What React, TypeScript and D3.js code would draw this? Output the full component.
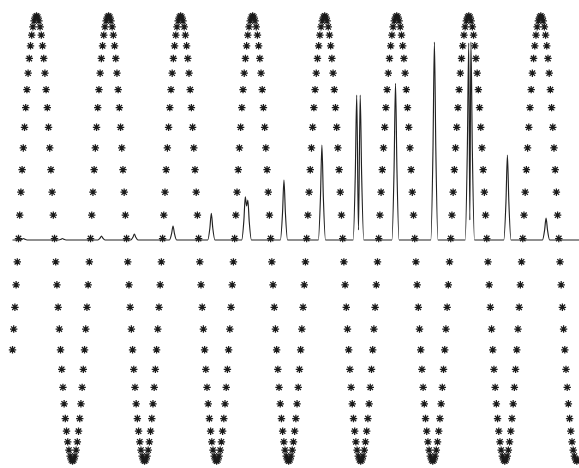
import React from "react";
import * as d3 from "d3";

// Sampled wave (asterisk markers), one value per sample, sample step 0.01
const waveStep = 0.01;
const waveValues: number[] = [
  -.5,-.407,-.309,-.208,-.105,0,.105,.208,.309,.407,.5,.588,.669,.743,.809,.866,.914,.951,.978,.995,1,.995,.978,.951,.914,.866,.809,.743,.669,.588,.5,.407,.309,.208,.105,0,-.105,-.208,-.309,-.407,-.5,-.588,-.669,-.743,-.809,-.866,-.914,-.951,-.978,-.995,-1,-.995,-.978,-.951,-.914,-.866,-.809,-.743,-.669,-.588,
  -.5,-.407,-.309,-.208,-.105,0,.105,.208,.309,.407,.5,.588,.669,.743,.809,.866,.914,.951,.978,.995,1,.995,.978,.951,.914,.866,.809,.743,.669,.588,.5,.407,.309,.208,.105,0,-.105,-.208,-.309,-.407,-.5,-.588,-.669,-.743,-.809,-.866,-.914,-.951,-.978,-.995,-1,-.995,-.978,-.951,-.914,-.866,-.809,-.743,-.669,-.588,
  -.5,-.407,-.309,-.208,-.105,0,.105,.208,.309,.407,.5,.588,.669,.743,.809,.866,.914,.951,.978,.995,1,.995,.978,.951,.914,.866,.809,.743,.669,.588,.5,.407,.309,.208,.105,0,-.105,-.208,-.309,-.407,-.5,-.588,-.669,-.743,-.809,-.866,-.914,-.951,-.978,-.995,-1,-.995,-.978,-.951,-.914,-.866,-.809,-.743,-.669,-.588,
  -.5,-.407,-.309,-.208,-.105,0,.105,.208,.309,.407,.5,.588,.669,.743,.809,.866,.914,.951,.978,.995,1,.995,.978,.951,.914,.866,.809,.743,.669,.588,.5,.407,.309,.208,.105,0,-.105,-.208,-.309,-.407,-.5,-.588,-.669,-.743,-.809,-.866,-.914,-.951,-.978,-.995,-1,-.995,-.978,-.951,-.914,-.866,-.809,-.743,-.669,-.588,
  -.5,-.407,-.309,-.208,-.105,0,.105,.208,.309,.407,.5,.588,.669,.743,.809,.866,.914,.951,.978,.995,1,.995,.978,.951,.914,.866,.809,.743,.669,.588,.5,.407,.309,.208,.105,0,-.105,-.208,-.309,-.407,-.5,-.588,-.669,-.743,-.809,-.866,-.914,-.951,-.978,-.995,-1,-.995,-.978,-.951,-.914,-.866,-.809,-.743,-.669,-.588,
  -.5,-.407,-.309,-.208,-.105,0,.105,.208,.309,.407,.5,.588,.669,.743,.809,.866,.914,.951,.978,.995,1,.995,.978,.951,.914,.866,.809,.743,.669,.588,.5,.407,.309,.208,.105,0,-.105,-.208,-.309,-.407,-.5,-.588,-.669,-.743,-.809,-.866,-.914,-.951,-.978,-.995,-1,-.995,-.978,-.951,-.914,-.866,-.809,-.743,-.669,-.588,
  -.5,-.407,-.309,-.208,-.105,0,.105,.208,.309,.407,.5,.588,.669,.743,.809,.866,.914,.951,.978,.995,1,.995,.978,.951,.914,.866,.809,.743,.669,.588,.5,.407,.309,.208,.105,0,-.105,-.208,-.309,-.407,-.5,-.588,-.669,-.743,-.809,-.866,-.914,-.951,-.978,-.995,-1,-.995,-.978,-.951,-.914,-.866,-.809,-.743,-.669,-.588,
  -.5,-.407,-.309,-.208,-.105,0,.105,.208,.309,.407,.5,.588,.669,.743,.809,.866,.914,.951,.978,.995,1,.995,.978,.951,.914,.866,.809,.743,.669,.588,.5,.407,.309,.208,.105,0,-.105,-.208,-.309,-.407,-.5,-.588,-.669,-.743,-.809,-.866,-.914,-.951,-.978,-.995,-1,-.995
];

// Peaked line, digitized vertices (t, value)
const lineT: number[] = [
  0,
  .062,.080,.092,.104,.122,
  .386,.404,.416,.428,.446,
  .711,.729,.741,.753,.771,
  .985,1.003,1.015,1.027,1.045,
  1.307,1.325,1.337,1.349,1.367,
  1.626,1.644,1.656,1.668,1.686,
  1.909,1.927,1.939,1.950,1.960,1.972,1.990,
  2.231,2.249,2.261,2.273,2.291,
  2.547,2.565,2.577,2.589,2.607,
  2.837,2.855,2.867,2.8815,2.896,2.908,2.926,
  3.160,3.178,3.190,3.202,3.220,
  3.484,3.502,3.514,3.526,3.544,
  3.770,3.788,3.800,3.809,3.818,3.830,3.848,
  4.092,4.110,4.122,4.134,4.152,
  4.414,4.432,4.444,4.456,4.474,
  4.72
];
const lineV: number[] = [
  0,
  0,.0034,.0075,.0034,0,
  0,.0034,.0075,.0034,0,
  0,.009,.02,.009,0,
  0,.0135,.03,.0135,0,
  0,.0315,.07,.0315,0,
  0,.06,.134,.06,0,
  0,.097,.216,.17,.2,.09,0,
  0,.135,.3,.135,0,
  0,.214,.475,.214,0,
  0,.326,.725,.05,.725,.326,0,
  0,.353,.784,.353,0,
  0,.446,.99,.446,0,
  0,.443,.985,.1,.99,.446,0,
  0,.191,.425,.191,0,
  0,.05,.11,.05,0,
  0
];

const W = 579;
const H = 468;

const xScale = d3.scaleLinear().domain([0, 4.71]).range([12.5, 578]);
const yWave = d3.scaleLinear().domain([-1, 1]).range([461, 16]);
const yLine = d3.scaleLinear().domain([0, 1]).range([240, 40]);

const starPath = "M-3.7,0H3.7M0,-3.7V3.7M-2.7,-2.7L2.7,2.7M-2.7,2.7L2.7,-2.7";

export default function App() {
  const linePts: [number, number][] = lineT.map((t, i) => [t, lineV[i]]);
  const lineGen = d3
    .line<[number, number]>()
    .x((d) => xScale(d[0]))
    .y((d) => yLine(d[1]))
    .curve(d3.curveMonotoneX);

  return (
    <svg
      width={W}
      height={H}
      style={{ position: "absolute", left: 0, top: 0, background: "#fff", display: "block" }}
    >
      <rect x={0} y={0} width={W} height={H} fill="#fff" />
      <g>
        {waveValues.map((v, i) => (
          <path
            key={i}
            d={starPath}
            transform={`translate(${xScale(i * waveStep)},${yWave(v)})`}
            stroke="#1a1a1a"
            strokeWidth={1.25}
            fill="none"
          />
        ))}
      </g>
      <path d={lineGen(linePts) || ""} fill="none" stroke="#222" strokeWidth={1.15} />
    </svg>
  );
}
